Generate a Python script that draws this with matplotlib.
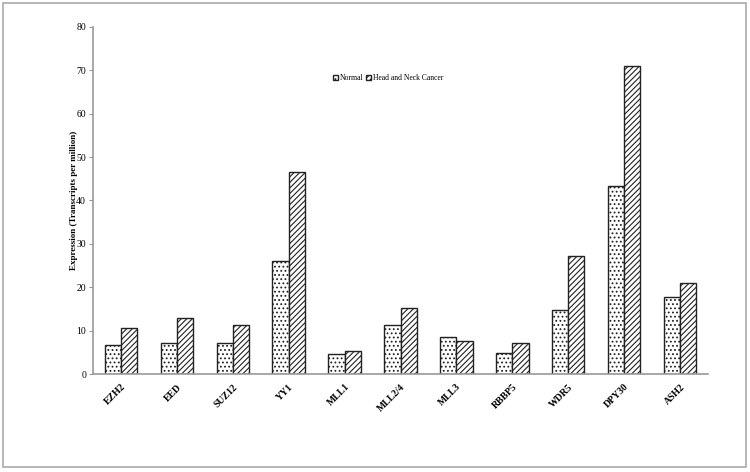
import numpy as np
import matplotlib.pyplot as plt
from matplotlib.patches import Rectangle

# data
genes = ['EZH2', 'EED', 'SUZ12', 'YY1', 'MLL1', 'MLL2/4', 'MLL3', 'RBBP5', 'WDR5', 'DPY30', 'ASH2']
normal = [6.7, 7.1, 7.1, 26.1, 4.5, 11.4, 8.6, 4.9, 14.8, 43.3, 17.7]
cancer = [10.7, 12.8, 11.4, 46.5, 5.4, 15.1, 7.7, 7.1, 27.1, 71.0, 20.9]
yticks = [0, 10, 20, 30, 40, 50, 60, 70, 80]

plt.rcParams['font.family'] = ['Liberation Serif', 'DejaVu Serif']
plt.rcParams['hatch.linewidth'] = 0.8

fig = plt.figure(figsize=(7.5, 4.72), dpi=100)
ax = fig.add_axes([0.124, 0.2076, 0.82, 0.7354])

x = np.arange(len(genes))
w = 0.29
ax.bar(x - w / 2, normal, w, color='white', edgecolor='#222222', hatch='....',
       linewidth=1.0, label='Normal')
ax.bar(x + w / 2, cancer, w, color='white', edgecolor='#222222', hatch='//////',
       linewidth=1.0, label='Head and Neck Cancer')

ax.set_xlim(-0.5, len(genes) - 0.5)
ax.set_ylim(0, 80)
ax.set_yticks(yticks)
ax.set_yticklabels([str(t) for t in yticks], fontsize=7)
ax.set_xticks(x)
ax.set_xticklabels(genes, rotation=45, ha='right', rotation_mode='anchor',
                   fontsize=7, fontweight='bold')
ax.tick_params(axis='x', length=0, pad=6)
ax.tick_params(axis='y', length=3, width=0.8, color='#999999', pad=2)

for s in ['top', 'right']:
    ax.spines[s].set_visible(False)
for s in ['left', 'bottom']:
    ax.spines[s].set_color('#999999')
    ax.spines[s].set_linewidth(1.2)

ax.set_ylabel('Expression (Transcripts per million)', fontsize=6.5, fontweight='bold', labelpad=-1)

ax.legend(loc='upper left', bbox_to_anchor=(0.379, 0.883), ncol=2, frameon=False,
          fontsize=5.5, handlelength=0.7, handleheight=0.7, handletextpad=0.2,
          columnspacing=0.3)

# grey frame around the whole chart
fig.patches.append(Rectangle((0.004, 0.011), 0.99, 0.983, transform=fig.transFigure,
                             fill=False, edgecolor='#aaaaaa', linewidth=1.2))

plt.savefig('out.png', dpi=100)
